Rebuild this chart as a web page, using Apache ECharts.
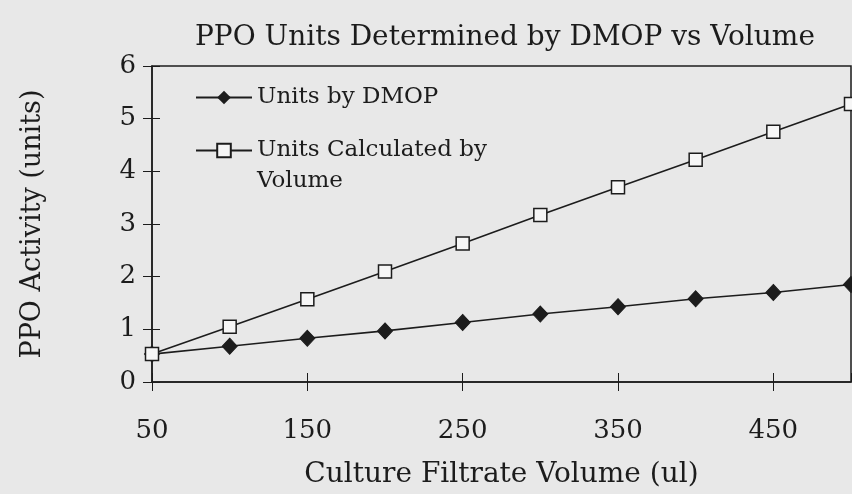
<!DOCTYPE html>
<html>
<head>
<meta charset="utf-8">
<script src="https://cdn.jsdelivr.net/npm/echarts@6/dist/echarts.min.js"></script>
<style>
  html, body { margin: 0; padding: 0; background: #e8e8e8; }
  #chart { width: 852px; height: 494px; }
</style>
</head>
<body>
<div id="chart"></div>
<script>
// culture filtrate volume (ul)
var volumes = [50, 100, 150, 200, 250, 300, 350, 400, 450, 500];
// PPO activity
var unitsDmop = [0.53, 0.68, 0.83, 0.97, 1.13, 1.29, 1.43, 1.58, 1.70, 1.85];
var unitsByVolume = [0.53, 1.05, 1.57, 2.10, 2.63, 3.17, 3.70, 4.22, 4.75, 5.28];
var seriesNames = ['Units by DMOP', 'Units Calculated by Volume'];

var font = 'DejaVu Serif';
var ink = '#1c1c1c';

function pairs(xs, ys){
  var out = [];
  for(var i=0;i<xs.length;i++){
    out.push([xs[i], ys[i]]);
  }
  return out;
}

var chart = echarts.init(document.getElementById('chart'), null, {renderer: 'canvas'});

var xBase = {
  type: 'value',
  min: 50,
  max: 500,
  interval: 100,
  splitLine: {show: false}
};

option = {
  backgroundColor: '#e8e8e8',
  animation: false,
  title: {
    text: 'PPO Units Determined by DMOP vs Volume',
    left: 500,
    top: 19,
    textAlign: 'center',
    textStyle: {fontFamily: font, fontWeight: 'normal', fontSize: 28, color: ink}
  },
  legend: [{
    data: [seriesNames[0]],
    left: 190,
    top: 81,
    itemWidth: 56,
    itemHeight: 17,
    textStyle: {fontFamily: font, fontSize: 23, color: ink}
  }, {
    // leading blank line keeps the marker level with the first text line
    data: [seriesNames[1]],
    left: 190,
    top: 99,
    itemWidth: 56,
    itemHeight: 17,
    formatter: function(name){ return ' \nUnits Calculated by\nVolume'; },
    textStyle: {fontFamily: font, fontSize: 23, lineHeight: 31, color: ink}
  }],
  grid: {
    left: 152,
    right: 1,
    top: 66,
    bottom: 111,
    show: true,
    borderColor: ink,
    borderWidth: 1.5,
    backgroundColor: 'transparent'
  },
  xAxis: [
    Object.assign({}, xBase, {
      name: 'Culture Filtrate Volume (ul)',
      nameLocation: 'middle',
      nameGap: 79,
      nameTextStyle: {fontFamily: font, fontSize: 28, color: ink},
      axisLine: {lineStyle: {color: ink, width: 1.5}},
      axisTick: {show: true, length: 9, lineStyle: {color: ink}},
      axisLabel: {
        margin: 36,
        showMaxLabel: false,
        fontFamily: font, fontSize: 26, color: ink
      }
    }),
    Object.assign({}, xBase, {
      position: 'bottom',
      axisLine: {show: false},
      axisTick: {show: true, inside: true, length: 9, lineStyle: {color: ink}},
      axisLabel: {show: false}
    })
  ],
  yAxis: [{
    type: 'value',
    min: 0,
    max: 6,
    interval: 1,
    name: 'PPO Activity (units)',
    nameLocation: 'middle',
    nameGap: 106,
    nameTextStyle: {fontFamily: font, fontSize: 27, color: ink},
    splitLine: {show: false},
    axisLine: {show: true, lineStyle: {color: ink, width: 1.5}},
    axisTick: {show: true, length: 9, lineStyle: {color: ink}},
    axisLabel: {margin: 16, fontFamily: font, fontSize: 26, color: ink}
  }, {
    type: 'value',
    min: 0,
    max: 6,
    interval: 1,
    position: 'left',
    splitLine: {show: false},
    axisLine: {show: false},
    axisTick: {show: true, inside: true, length: 8, lineStyle: {color: ink}},
    axisLabel: {show: false}
  }],
  series: [{
    name: seriesNames[0],
    type: 'line',
    data: pairs(volumes, unitsDmop),
    symbol: 'diamond',
    symbolSize: [15, 16],
    clip: false,
    lineStyle: {color: ink, width: 1.6},
    itemStyle: {color: ink, borderColor: ink}
  }, {
    name: seriesNames[1],
    type: 'line',
    data: pairs(volumes, unitsByVolume),
    symbol: 'rect',
    symbolSize: 13,
    clip: false,
    z: 3,
    lineStyle: {color: ink, width: 1.6},
    itemStyle: {color: '#f6f6f6', borderColor: ink, borderWidth: 1.5}
  }]
};

chart.setOption(option);
</script>
</body>
</html>
